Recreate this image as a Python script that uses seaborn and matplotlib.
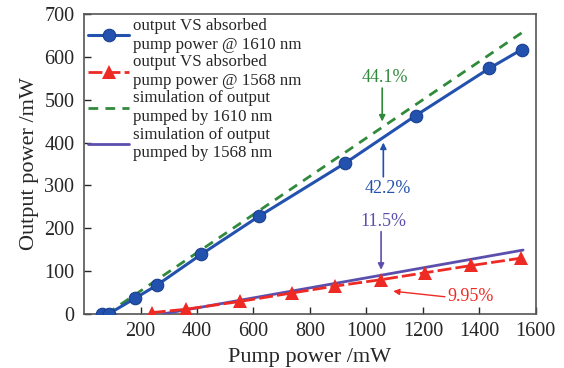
import matplotlib
matplotlib.use("Agg")
import matplotlib.pyplot as plt
import seaborn as sns
import pandas as pd

# Measured data
blue_x = [62, 87, 182, 258, 415, 620, 925, 1175, 1435, 1550]
blue_y = [0, 0, 37, 67, 139, 228, 352, 463, 573, 617]
red_x = [240, 362, 552, 738, 890, 1053, 1207, 1372, 1546]
red_y = [3, 11, 29, 49, 65, 80, 96, 113, 130]
green_x = [80, 1550]
green_y = [0, 656]
purple_x = [280, 1555]
purple_y = [0, 149]

xticks = [200, 400, 600, 800, 1000, 1200, 1400, 1600]
yticks = [0, 100, 200, 300, 400, 500, 600, 700]

labels = ["output VS absorbed\npump power @ 1610 nm",
          "output VS absorbed\npump power @ 1568 nm",
          "simulation of output\npumped by 1610 nm",
          "simulation of output\npumped by 1568 nm"]

BLUE = "#2352ae"
RED = "#ee2a24"
GREEN = "#318a3c"
PURPLE = "#5b4fae"

sns.set_style("ticks")
plt.rcParams['font.family'] = ['Liberation Serif', 'DejaVu Serif']

fig = plt.figure(figsize=(5.64, 3.68), dpi=100)
ax = fig.add_axes([0.149, 0.147, 0.801, 0.815])

dfb = pd.DataFrame({"x": blue_x, "y": blue_y})
dfr = pd.DataFrame({"x": red_x, "y": red_y})
dfg = pd.DataFrame({"x": green_x, "y": green_y})
dfp = pd.DataFrame({"x": purple_x, "y": purple_y})

sns.lineplot(data=dfb, x="x", y="y", ax=ax, color=BLUE, lw=2.2, marker="o",
             markersize=9, markeredgecolor="#1a3f8f", markeredgewidth=0.8,
             label=labels[0], zorder=4)
sns.lineplot(data=dfr, x="x", y="y", ax=ax, color=RED, lw=2.0, marker="^",
             markersize=10, markeredgewidth=0, dashes=(5, 1.5),
             label=labels[1], zorder=4)
sns.lineplot(data=dfg, x="x", y="y", ax=ax, color=GREEN, lw=2.0,
             dashes=(3.5, 2.6), label=labels[2], zorder=3)
sns.lineplot(data=dfp, x="x", y="y", ax=ax, color=PURPLE, lw=2.0,
             label=labels[3], zorder=3)

ax.set_xlim(0, 1600)
ax.set_ylim(0, 700)
ax.set_xticks(xticks)
ax.set_yticks(yticks)
ax.tick_params(direction="in", labelsize=14.5, length=5, width=1,
               top=False, right=False)
ax.tick_params(axis="y", pad=7)
ax.tick_params(axis="x", pad=6)
ax.set_xlabel("Pump power /mW", fontsize=16, labelpad=5)
ax.set_ylabel("Output power /mW", fontsize=16, labelpad=4)
for s in ax.spines.values():
    s.set_color("#555555")
    s.set_linewidth(1.2)

# Annotations (text + vertical arrows)
arrow_kw = dict(arrowstyle="-|>", lw=1.2, shrinkA=0, shrinkB=0, mutation_scale=9)
ax.text(1065, 552, "44.1%", color=GREEN, fontsize=13, ha="center", va="center")
ax.annotate("", xy=(1056, 449), xytext=(1056, 527),
            arrowprops=dict(color=GREEN, **arrow_kw))
ax.text(1077, 292, "42.2%", color=BLUE, fontsize=13, ha="center", va="center")
ax.annotate("", xy=(1060, 400), xytext=(1060, 320),
            arrowprops=dict(color=BLUE, **arrow_kw))
ax.text(1060, 215, "11.5%", color=PURPLE, fontsize=13, ha="center", va="center")
ax.annotate("", xy=(1052, 103), xytext=(1052, 192),
            arrowprops=dict(color=PURPLE, **arrow_kw))
ax.text(1370, 40, "9.95%", color=RED, fontsize=13, ha="center", va="center")
ax.annotate("", xy=(1095, 53), xytext=(1278, 40),
            arrowprops=dict(color=RED, **dict(arrow_kw, lw=1.0)))

leg = ax.legend(loc="upper left", frameon=False, fontsize=12.2,
                handlelength=2.4, borderaxespad=0.1, labelspacing=0.1,
                handletextpad=0.25, borderpad=0.15)

fig.savefig("out.png", dpi=100)
